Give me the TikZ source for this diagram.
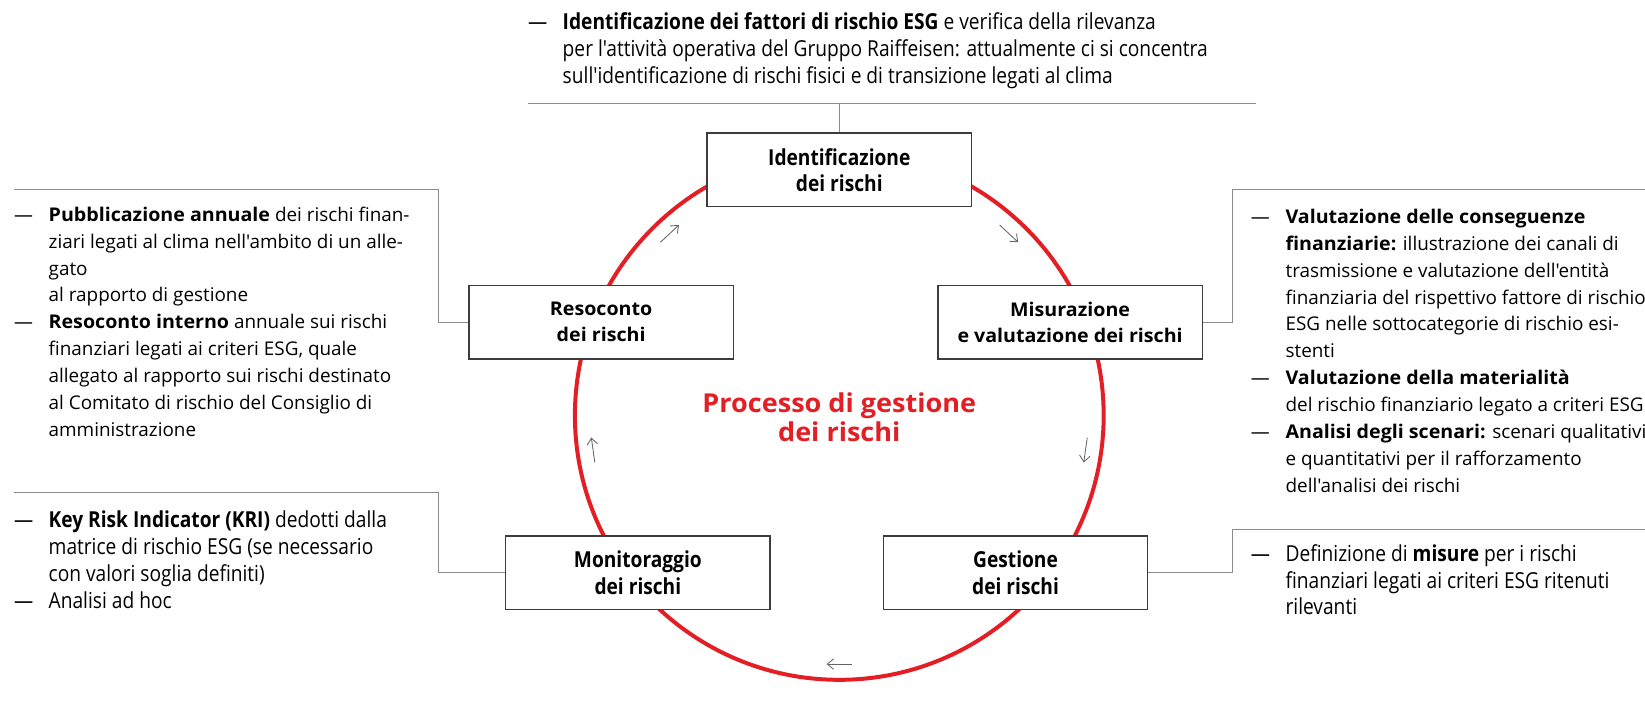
\documentclass[tikz,border=0pt]{standalone}
\usepackage{fontspec}
\setmainfont{Open Sans}[Ligatures=TeXOff, BoldFeatures={FakeStretch=1.04}]
\newfontfamily\condfont{Open Sans}[Ligatures=TeXOff, FakeStretch=0.87]
\usepackage{tikz}
\usetikzlibrary{positioning,arrows.meta,calc}
\definecolor{rfred}{RGB}{227,30,36}
\definecolor{rfgray}{RGB}{140,140,140}
\definecolor{rfdark}{RGB}{60,60,60}
\newcommand{\sidetext}{\fontsize{9}{12.8}\selectfont}
\newcommand{\condtext}{\condfont\fontsize{10.5}{12.8}\selectfont}
\newcommand{\dashlist}[1]{\begin{tabular}[t]{@{}p{16.5pt}@{}l@{}}#1\end{tabular}}
\tikzset{
  stage/.style={draw=rfdark, line width=0.7pt, fill=white, align=center, minimum width=126pt, minimum height=35pt, inner sep=0pt, font=\bfseries\fontsize{9}{12.5}\selectfont},
  condstage/.style={stage, font=\condfont\bfseries\fontsize{10.5}{12.5}\selectfont},
  note/.style={anchor=base west, inner sep=0pt, font=\sidetext},
  condnote/.style={note, font=\condtext},
  link/.style={draw=rfgray, line width=0.5pt},
  ring/.style={draw=rfred, line width=1.9pt},
  turn/.style={draw=rfdark!80, line width=0.4pt, -{Straight Barb[length=3pt,width=5pt]}},
}

\begin{document}
\begin{tikzpicture}[x=0.5pt,y=-0.5pt]
  \path[use as bounding box] (0,0) rectangle (1568,678);
  % cycle
  \coordinate (c) at (800,396);
  \draw[ring] (c) circle[radius=252];
  \foreach \a in {-133,-47,8,90,172}
    \draw[turn] ($(c)+(\a:237)+(\a-90:12)$) -- ($(c)+(\a:237)+(\a+90:12)$);
  \node[font=\bfseries\fontsize{12.4}{14}\selectfont, text=rfred, align=center] (title) at (800,398) {Processo di gestione\\dei rischi};

  % stages
  \node[condstage] (ident) at (800,162) {Identificazione\\dei rischi};
  \node[stage] (reso) at (573,307) {Resoconto\\dei rischi};
  \node[stage] (misu) at (1020,307) {Misurazione\\e valutazione dei rischi};
  \node[condstage] (moni) at (608,546) {Monitoraggio\\dei rischi};
  \node[condstage] (gest) at (968,546) {Gestione\\dei rischi};

  % brackets
  \coordinate (topl) at (503,99);
  \coordinate (topr) at (1197,99);
  \coordinate (resoend) at (13,181);
  \coordinate (misuend) at (1568,181);
  \coordinate (moniend) at (13,469);
  \coordinate (gestend) at (1568,505);
  \draw[link] (topl) -- (topr);
  \draw[link] (ident.north) -- (ident.north |- topl);
  \draw[link] (reso.west) -- ++(-28,0) |- (resoend);
  \draw[link] (misu.east) -- ++(28,0) |- (misuend);
  \draw[link] (moni.west) -- ++(-63,0) |- (moniend);
  \draw[link] (gest.east) -- ++(80,0) |- (gestend);

  % notes
  \node[condnote] (idtxt) at (503,28) {\dashlist{%
    \textemdash & \textbf{Identificazione dei fattori di rischio ESG} e verifica della rilevanza\\
    & per l'attività operativa del Gruppo Raiffeisen: attualmente ci si concentra\\
    & sull'identificazione di rischi fisici e di transizione legati al clima}};
  \node[note] (resotxt) at (13,211) {\dashlist{%
    \textemdash & \textbf{Pubblicazione annuale} dei rischi finan-\\
    & ziari legati al clima nell'ambito di un alle-\\
    & gato\\
    & al rapporto di gestione\\
    \textemdash & \textbf{Resoconto interno} annuale sui rischi\\
    & finanziari legati ai criteri ESG, quale\\
    & allegato al rapporto sui rischi destinato\\
    & al Comitato di rischio del Consiglio di\\
    & amministrazione}};
  \node[note] (misutxt) at (1192,213) {\dashlist{%
    \textemdash & \textbf{Valutazione delle conseguenze}\\
    & \textbf{finanziarie:} illustrazione dei canali di\\
    & trasmissione e valutazione dell'entità\\
    & finanziaria del rispettivo fattore di rischio\\
    & ESG nelle sottocategorie di rischio esi-\\
    & stenti\\
    \textemdash & \textbf{Valutazione della materialità}\\
    & del rischio finanziario legato a criteri ESG\\
    \textemdash & \textbf{Analisi degli scenari:} scenari qualitativi\\
    & e quantitativi per il rafforzamento\\
    & dell'analisi dei rischi}};
  \node[condnote] (monitxt) at (13,503) {\dashlist{%
    \textemdash & \textbf{Key Risk Indicator (KRI)} dedotti dalla\\
    & matrice di rischio ESG (se necessario\\
    & con valori soglia definiti)\\
    \textemdash & Analisi ad hoc}};
  \node[condnote] (gesttxt) at (1192,535) {\dashlist{%
    \textemdash & Definizione di \textbf{misure} per i rischi\\
    & finanziari legati ai criteri ESG ritenuti\\
    & rilevanti}};
\end{tikzpicture}
\end{document}
